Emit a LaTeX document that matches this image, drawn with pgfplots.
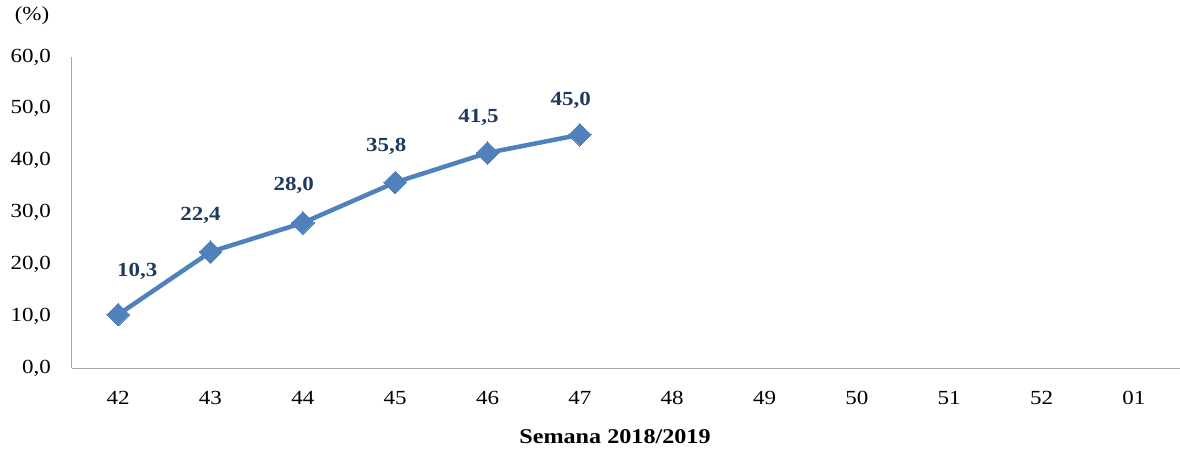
\documentclass[border=0pt]{standalone}
\usepackage{fontspec}
\setmainfont[FakeStretch=1.15]{Liberation Serif}
\usepackage{pgfplots}
\usepackage{pgfplotstable}
\pgfplotsset{compat=1.18}
\definecolor{serie}{HTML}{4F81BD}
\definecolor{lbl}{HTML}{1F3A5F}
\definecolor{axgray}{HTML}{A6A6A6}
\pgfplotstableread{
x y dx dy
0 10.3 19 43
1 22.4 -10 36
2 28.0 -9 37
3 35.8 -9 36
4 41.5 -9 35
5 45.0 -9 34
}\data
\begin{document}
\fontsize{20}{24}\selectfont
\begin{tikzpicture}
\begin{axis}[
  at={(0,0)}, anchor=south west,
  scale only axis, width=1108pt, height=311pt,
  xmin=-0.5, xmax=11.5, ymin=0, ymax=60,
  axis x line*=bottom, axis y line*=left,
  axis line style={axgray, line width=1pt, -},
  xtick={0,...,11},
  xticklabels={42,43,44,45,46,47,48,49,50,51,52,01},
  ytick={0,10,...,60},
  major tick length=0pt,
  /pgf/number format/assume math mode=true,
  /pgf/number format/.cd, fixed, fixed zerofill, precision=1, use comma, 1000 sep={},
  /pgfplots/.cd,
  ticklabel style={font=\fontsize{20}{24}\selectfont},
  xticklabel style={anchor=center, yshift=-30pt, inner sep=0pt},
  yticklabel style={anchor=east, xshift=-21pt, inner sep=0pt},
  xlabel={\textbf{Semana 2018/2019}},
  xlabel style={at={(axis description cs:0.5,0)}, anchor=center, yshift=-69pt, xshift=-11pt, font=\fontsize{21}{25}\selectfont},
  clip=false,
]
\addplot[serie, line width=4.5pt, mark=square*, mark size=8pt,
  mark options={rotate=45, solid, fill=serie, draw=serie, line width=0pt},
  visualization depends on={\thisrow{dx} \as \dx},
  visualization depends on={\thisrow{dy} \as \dy},
  nodes near coords,
  nodes near coords style={anchor=center, xshift=\dx pt, yshift=\dy pt, text=lbl,
    font=\fontsize{20}{24}\selectfont\bfseries,
    /pgf/number format/.cd, fixed, fixed zerofill, precision=1, use comma},
] table[x=x, y=y] {\data};
\end{axis}
\node[anchor=center, font=\fontsize{20}{24}\selectfont] at (-40pt,352pt) {(\%)};
\pgfresetboundingbox
\path[use as bounding box] (-72pt,-82pt) rectangle (1108pt,368pt);
\end{tikzpicture}
\end{document}
